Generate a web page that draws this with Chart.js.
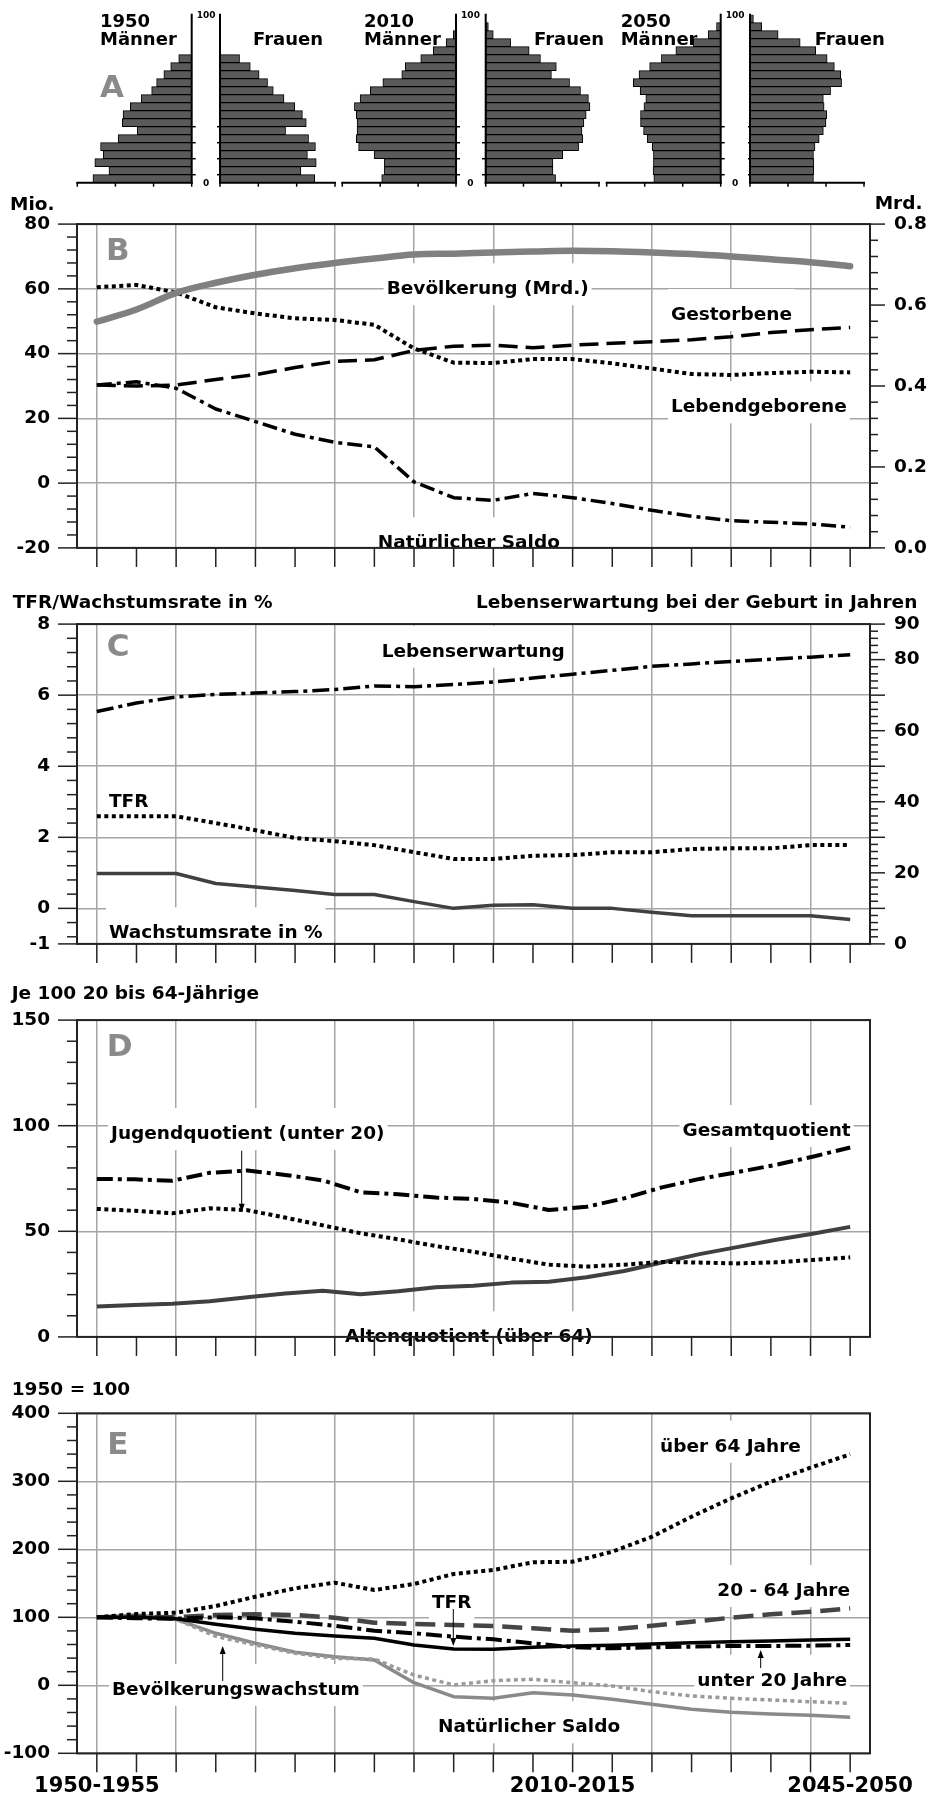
<!DOCTYPE html>
<html lang="de">
<head>
<meta charset="utf-8">
<title>Bevölkerungsentwicklung</title>
<script src="https://cdn.jsdelivr.net/npm/chart.js@4/dist/chart.umd.min.js"></script>
<style>
html,body{margin:0;padding:0;background:#fff}
body{position:relative;width:928px;height:1796px;overflow:hidden}
canvas{position:absolute}
</style>
</head>
<body>
<canvas id="m1950"></canvas><canvas id="f1950"></canvas>
<canvas id="m2010"></canvas><canvas id="f2010"></canvas>
<canvas id="m2050"></canvas><canvas id="f2050"></canvas>
<canvas id="pB"></canvas>
<canvas id="pC"></canvas>
<canvas id="pD"></canvas>
<canvas id="pE"></canvas>
<script>
// ================= DATA =================
const periods = ['1950-1955','1955-1960','1960-1965','1965-1970','1970-1975','1975-1980','1980-1985','1985-1990','1990-1995','1995-2000',
                 '2000-2005','2005-2010','2010-2015','2015-2020','2020-2025','2025-2030','2030-2035','2035-2040','2040-2045','2045-2050'];
const years21 = [1950,1955,1960,1965,1970,1975,1980,1985,1990,1995,2000,2005,2010,2015,2020,2025,2030,2035,2040,2045,2050];
const ageGroups = ['0-4','5-9','10-14','15-19','20-24','25-29','30-34','35-39','40-44','45-49','50-54','55-59','60-64','65-69','70-74','75-79','80-84','85-89','90-94','95-99','100+'];
const pyramidAxisTicks = [0, 10, 20, 30];

// A: Bevölkerungspyramiden (Mio.)
const maenner1950 = [25.9,21.7,25.4,23.2,23.9,19.3,14.3,18.2,18.0,16.1,13.2,10.5,9.2,7.3,5.5,3.4,null,null,null,null,null];
const frauen1950  = [24.7,21.1,25.1,22.8,24.9,23.1,17.1,22.5,21.5,19.5,16.7,13.9,12.4,10.2,7.9,5.1,null,null,null,null,null];
const maenner2010 = [19.6,18.9,18.9,21.6,25.7,26.3,26.1,26.1,26.3,26.8,25.3,22.6,19.3,14.3,13.4,9.3,6.0,2.6,0.7,null,null];
const frauen2010  = [18.5,17.8,17.8,20.4,24.6,25.7,25.5,26.0,26.6,27.6,27.2,25.1,22.2,17.4,18.7,14.5,11.5,6.6,2.0,0.7,null];
const maenner2050 = [17.6,17.8,17.7,17.7,18.0,19.3,20.3,21.1,21.1,20.2,19.7,21.2,23.0,21.5,18.7,15.6,11.8,7.2,3.3,1.1,null];
const frauen2050  = [16.7,16.8,16.8,16.7,17.1,18.2,19.3,20.0,20.2,19.5,19.3,21.2,24.1,23.9,22.2,20.3,17.3,13.2,7.4,3.1,0.9];

// B (Mio. / Mrd.)
const bevoelkerungMrd = [0.559,0.589,0.630,0.655,0.675,0.691,0.704,0.715,0.725,0.727,0.730,0.732,0.734,0.733,0.730,0.726,0.720,0.713,0.706,0.696];
const gestorbene      = [30.3,30.0,30.3,32.0,33.5,35.7,37.6,38.1,41.0,42.3,42.6,41.8,42.6,43.2,43.7,44.3,45.2,46.5,47.4,48.1];
const lebendgeborene  = [60.5,61.2,58.9,54.3,52.4,50.9,50.4,48.9,41.6,37.2,37.1,38.3,38.3,37.0,35.4,33.7,33.4,34.0,34.4,34.2];
const natSaldo        = [30.3,31.3,29.3,22.9,19.0,15.1,12.6,11.2,0.4,-4.5,-5.3,-3.2,-4.5,-6.3,-8.4,-10.2,-11.6,-12.1,-12.6,-13.6];
const bLeftLabels  = [-20, 0, 20, 40, 60, 80];
const bRightLabels = [0, 0.2, 0.4, 0.6, 0.8];

// C
const lebenserwartung = [65.4,67.8,69.5,70.2,70.6,71.0,71.6,72.6,72.4,73.0,73.7,74.8,75.9,77.0,78.1,78.8,79.5,80.1,80.7,81.4];
const tfr             = [2.59,2.59,2.59,2.40,2.20,1.98,1.89,1.78,1.58,1.39,1.39,1.48,1.50,1.58,1.58,1.67,1.69,1.69,1.78,1.78];
const wachstumsrate   = [0.98,0.98,0.98,0.70,0.60,0.50,0.39,0.39,0.19,0.00,0.09,0.10,0.00,0.00,-0.11,-0.21,-0.21,-0.21,-0.21,-0.31];
const cLeftLabels  = [-1, 0, 2, 4, 6, 8];
const cRightLabels = [0, 20, 40, 60, 80, 90];
const cRightLong   = [0, 10, 20, 30, 40, 50, 60, 70, 80, 90];

// D (je 100 20- bis 64-Jährige), Jahre 1950..2050
const gesamtquotient = [74.8,74.6,73.9,77.7,78.8,76.7,74.1,68.5,67.5,66.0,65.3,63.5,60.1,61.6,65.6,70.8,74.8,78.0,81.4,85.3,89.7];
const jugendquotient = [60.6,59.7,58.5,60.9,60.0,56.5,52.8,49.1,46.2,43.0,40.3,37.1,34.2,33.3,34.2,35.5,35.2,34.8,35.3,36.4,37.7];
const altenquotient  = [14.4,15.1,15.7,16.9,18.8,20.5,21.9,20.2,21.6,23.5,24.2,25.7,26.1,28.2,31.2,35.2,39.2,42.5,45.9,48.8,52.1];
const dLabels = [0, 50, 100, 150];

// E (1950 = 100)
const ueber64       = [100,104.9,106.8,116.6,130.3,142.6,150.9,140.1,149.0,163.7,169.6,180.9,181.8,196.5,218.5,248.0,275.0,299.4,320.0,339.7];
const jahre20bis64  = [100,101.0,100.0,103.4,104.4,103.4,99.4,92.1,90.1,88.7,87.2,83.8,80.3,82.4,87.6,93.5,99.4,104.4,108.2,113.2];
const unter20       = [100,98.5,98.0,100.0,98.5,93.5,87.6,80.3,76.5,71.5,67.6,61.8,55.9,54.4,55.9,56.8,57.8,57.8,58.3,59.3];
const tfrIndex      = [100,100.0,98.0,89.7,82.4,76.5,72.5,69.1,59.3,53.4,52.9,55.9,57.8,58.8,60.7,62.6,64.1,65.1,66.6,67.6];
const saldoIndex    = [100,103.4,97.0,76.5,61.8,48.5,42.1,37.2,3.8,-16.7,-19.1,-10.9,-14.3,-20.6,-27.9,-35.3,-39.7,-42.2,-44.1,-47.0];
const wachstumIndex = [100,103.4,97.0,72.0,59.3,47.2,39.7,38.5,15.1,0.5,6.8,8.8,3.8,-1.0,-9.4,-15.7,-19.1,-21.6,-24.1,-26.5];
const eLabels = [-100, 0, 100, 200, 300, 400];
const eXLabels = ['1950-1955', '2010-2015', '2045-2050'];

// ================= HELPERS =================
const FAM = 'DejaVu Sans';
const GRID = '#a6a6a6', AXIS = '#222';
const fnt = s => `bold ${s}px "${FAM}"`;
const near = (a, b) => Math.abs(a - b) < 1e-6;
Chart.defaults.font.family = FAM;

function stepTicks(min, max, step) {
  const out = [min];
  const k0 = Math.ceil(min / step - 1e-9), k1 = Math.floor(max / step + 1e-9);
  for (let k = k0; k <= k1; k++) {
    const v = +(k * step).toFixed(6);
    if (!near(v, min) && !near(v, max)) out.push(v);
  }
  out.push(max);
  return out;
}

function line(ctx, x1, y1, x2, y2) { ctx.beginPath(); ctx.moveTo(x1, y1); ctx.lineTo(x2, y2); ctx.stroke(); }

function drawText(ctx, t, offX, offY) {
  ctx.font = fnt(t.size || 18.5);
  ctx.fillStyle = t.color || '#000';
  ctx.textBaseline = 'alphabetic';
  const w = ctx.measureText(t.text).width;
  const x0 = (t.align === 'right' ? t.x - w : t.align === 'center' ? t.x - w / 2 : t.x) - offX;
  ctx.fillText(t.text, x0, t.y - offY);
  return {x0, w};
}

const decor = {
  id: 'decor',
  beforeDatasetsDraw(chart, args, o) {
    const ctx = chart.ctx;
    ctx.save();
    (o.texts || []).filter(t => t.box).forEach(t => {
      ctx.font = fnt(t.size || 18.5);
      const w = ctx.measureText(t.text).width;
      const x0 = t.align === 'right' ? t.x - w : t.x;
      const by = t.y - o.top;
      ctx.fillStyle = '#fff';
      ctx.fillRect(x0 - 3, by - 31, w + 6, 42);
      drawText(ctx, t, 0, o.top);
    });
    ctx.restore();
  },
  afterDraw(chart, args, o) {
    const ctx = chart.ctx, a = chart.chartArea;
    ctx.save();
    ctx.strokeStyle = AXIS;
    // x tick marks
    const xs = chart.scales.x;
    ctx.lineWidth = 1.5;
    xs.ticks.forEach((t, i) => { const px = xs.getPixelForTick(i); line(ctx, px, a.bottom, px, a.bottom + 19); });
    // y tick marks
    (o.yMarks || []).forEach(m => {
      const s = chart.scales[m.id];
      s.ticks.forEach(t => {
        const py = s.getPixelForValue(t.value);
        const long = m.longVals.some(v => near(v, t.value));
        if (m.side === 'left') line(ctx, a.left - (long ? 19 : 10), py, a.left, py);
        else line(ctx, a.right, py, a.right + (long ? 15 : 8), py);
      });
    });
    // frame
    ctx.lineWidth = 2;
    ctx.strokeRect(a.left, a.top, a.right - a.left, a.bottom - a.top);
    // arrows
    ctx.fillStyle = '#000'; ctx.strokeStyle = '#000'; ctx.lineWidth = 1;
    (o.arrows || []).forEach(ar => {
      const y1 = ar.y1 - o.top, y2 = ar.y2 - o.top, d = y2 > y1 ? 1 : -1;
      line(ctx, ar.x, y1, ar.x, y2 - d * 4);
      ctx.beginPath(); ctx.moveTo(ar.x, y2); ctx.lineTo(ar.x - 3, y2 - d * 8); ctx.lineTo(ar.x + 3, y2 - d * 8); ctx.closePath(); ctx.fill();
    });
    // free texts (titles, letters)
    (o.texts || []).filter(t => !t.box).forEach(t => drawText(ctx, t, 0, o.top));
    // x labels
    (o.xLabels || []).forEach(l => {
      const px = xs.getPixelForValue(periods.indexOf(l));
      drawText(ctx, {text: l, x: px, y: o.xLabelY, align: 'center', size: 21}, 0, o.top);
    });
    ctx.restore();
  }
};

function yAxis(o) {
  const left = o.side === 'left';
  return {
    type: 'linear', position: o.side, min: o.min, max: o.max,
    afterBuildTicks: s => { s.ticks = stepTicks(o.min, o.max, o.step).map(v => ({value: v})); },
    afterFit: s => { s.width = left ? 77 : 58; },
    ticks: {
      autoSkip: false, padding: left ? 27 : 24, color: '#000',
      font: {family: FAM, size: 18.5, weight: 'bold'},
      callback: v => o.labels.some(l => near(l, v)) ? (o.fmt ? o.fmt(v) : String(Math.round(v))) : ''
    },
    grid: {
      drawTicks: false, drawOnChartArea: !!o.grid, lineWidth: 1.5,
      color: c => (o.grid && c.tick && o.longVals.some(l => near(l, c.tick.value))) ? GRID : 'rgba(0,0,0,0)'
    },
    border: {display: false}
  };
}

function catX() {
  return {
    type: 'category', offset: true,
    grid: {offset: false, drawTicks: false, lineWidth: 1.5, color: c => c.index % 2 === 0 ? GRID : 'rgba(0,0,0,0)'},
    ticks: {display: false}, border: {display: false}
  };
}

function ds(data, color, width, dash, extra) {
  return Object.assign({data, borderColor: color, borderWidth: width, borderDash: dash, pointRadius: 0,
    fill: false, tension: 0, borderCapStyle: 'butt', borderJoinStyle: 'round', yAxisID: 'y'}, extra || {});
}

function linePanel(id, cfg) {
  const cv = document.getElementById(id);
  cv.width = 928; cv.height = cfg.h; cv.style.left = '0px'; cv.style.top = cfg.top + 'px';
  const areaTop = cfg.plotTop - cfg.top, areaBottom = cfg.plotBottom - cfg.top;
  const scales = {x: cfg.x, y: yAxis(cfg.y)};
  if (cfg.y2) scales.y2 = yAxis(cfg.y2);
  scales.x.afterFit = s => { s.height = cfg.h - areaBottom; };
  const yMarks = [{id: 'y', side: 'left', longVals: cfg.y.longVals}];
  if (cfg.y2) yMarks.push({id: 'y2', side: 'right', longVals: cfg.y2.longVals});
  return new Chart(cv, {
    type: 'line',
    data: {labels: cfg.labels, datasets: cfg.datasets},
    options: {
      responsive: false, animation: false, events: [],
      layout: {padding: {top: areaTop, left: 0, right: cfg.y2 ? 0 : 58, bottom: 0}},
      plugins: {legend: {display: false}, tooltip: {enabled: false},
        decor: {top: cfg.top, texts: cfg.texts, arrows: cfg.arrows, yMarks, xLabels: cfg.xLabels, xLabelY: cfg.xLabelY}},
      scales
    },
    plugins: [decor]
  });
}

// ================= PYRAMIDS =================
const pyr = {
  id: 'pyr',
  afterDraw(chart, args, o) {
    const ctx = chart.ctx, a = chart.chartArea, xs = chart.scales.x, ys = chart.scales.y;
    const x0 = xs.getPixelForValue(0);
    ctx.save();
    ctx.strokeStyle = '#000'; ctx.lineWidth = 2;
    line(ctx, x0, a.top - 1, x0, a.bottom + 1);
    line(ctx, a.left - 1, a.bottom, a.right + 1, a.bottom);
    ctx.lineWidth = 1.5;
    o.axisTicks.forEach(v => { const px = xs.getPixelForValue(v); line(ctx, px, a.bottom, px, a.bottom + 4); });
    const rowH = Math.abs(ys.getPixelForValue(0) - ys.getPixelForValue(1));
    const dir = o.male ? 1 : -1;
    for (let r = 0; r < ys.ticks.length; r += 2) {
      const py = ys.getPixelForValue(r) - rowH / 2;
      line(ctx, x0, py, x0 + dir * 4, py);
    }
    o.texts.forEach(t => drawText(ctx, t, o.left, 0));
    if (o.male) {
      const gc = x0 + 14.5;
      ctx.font = fnt(9); ctx.fillStyle = '#000'; ctx.textAlign = 'center'; ctx.textBaseline = 'middle';
      ctx.fillText('100', gc, a.top + 1);
      ctx.fillText('0', gc, a.bottom + 1);
    }
    ctx.restore();
  }
};

function pyramid(id, left, width, plotL, plotR, values, male, texts) {
  const cv = document.getElementById(id);
  cv.width = width; cv.height = 192; cv.style.left = left + 'px'; cv.style.top = '0px';
  new Chart(cv, {
    type: 'bar',
    data: {labels: ageGroups, datasets: [{data: values, backgroundColor: '#5a5a5a', borderColor: '#000',
      borderWidth: 1, borderSkipped: false, barPercentage: 1, categoryPercentage: 1}]},
    options: {
      indexAxis: 'y', responsive: false, animation: false, events: [],
      layout: {padding: {left: plotL - left, right: left + width - plotR, top: 14.7, bottom: 192 - 182.7}},
      scales: {x: {display: false, min: 0, max: 30, reverse: male}, y: {display: false, reverse: true}},
      plugins: {legend: {display: false}, tooltip: {enabled: false}, pyr: {male, left, texts, axisTicks: pyramidAxisTicks}}
    },
    plugins: [pyr]
  });
}

pyramid('m1950', 60, 157, 77.3, 191.7, maenner1950, true, [
  {text: '1950', x: 100, y: 27.3, size: 18}, {text: 'Männer', x: 100, y: 45, size: 18},
  {text: 'A', x: 100, y: 96.7, size: 31, color: '#8a8a8a'}]);
pyramid('f1950', 217, 128, 220, 335, frauen1950, false, [{text: 'Frauen', x: 253, y: 45, size: 18}]);
pyramid('m2010', 330, 152, 342.3, 456, maenner2010, true, [
  {text: '2010', x: 364, y: 27.3, size: 18}, {text: 'Männer', x: 364, y: 45, size: 18}]);
pyramid('f2010', 482, 123, 485.7, 599, frauen2010, false, [{text: 'Frauen', x: 534, y: 45, size: 18}]);
pyramid('m2050', 605, 143, 606.7, 720.7, maenner2050, true, [
  {text: '2050', x: 620.7, y: 27.3, size: 18}, {text: 'Männer', x: 620.7, y: 45, size: 18}]);
pyramid('f2050', 748, 180, 750, 864, frauen2050, false, [{text: 'Frauen', x: 814.7, y: 45, size: 18}]);

// ================= PANEL B =================
linePanel('pB', {
  top: 186, h: 400, plotTop: 221, plotBottom: 561, labels: periods, x: catX(),
  y:  {min: -20, max: 80, step: 4, labels: bLeftLabels, longVals: bLeftLabels, side: 'left', grid: true},
  y2: {min: 0, max: 0.8, step: 0.04, labels: bRightLabels, longVals: bRightLabels, side: 'right', fmt: v => v.toFixed(1)},
  datasets: [
    ds(bevoelkerungMrd, '#808080', 6.5, [], {yAxisID: 'y2', borderCapStyle: 'round', cubicInterpolationMode: 'monotone'}),
    ds(gestorbene, '#000', 3.5, [19, 8]),
    ds(lebendgeborene, '#000', 4, [4, 3.5]),
    ds(natSaldo, '#000', 3.5, [15, 5, 4, 5])
  ],
  texts: [
    {text: 'Mio.', x: 10, y: 210},
    {text: 'Mrd.', x: 874.7, y: 209.3},
    {text: 'B', x: 106, y: 260, size: 31, color: '#8a8a8a'},
    {text: 'Bevölkerung (Mrd.)', x: 386.7, y: 294.3, box: true},
    {text: 'Gestorbene', x: 671, y: 320, box: true},
    {text: 'Lebendgeborene', x: 846.7, y: 412.3, align: 'right', box: true},
    {text: 'Natürlicher Saldo', x: 377.7, y: 548.3, box: true}
  ]
});

// ================= PANEL C =================
linePanel('pC', {
  top: 586, h: 396, plotTop: 617.3, plotBottom: 957.7, labels: periods, x: catX(),
  y:  {min: -1, max: 8, step: 0.4, labels: cLeftLabels, longVals: cLeftLabels, side: 'left', grid: true},
  y2: {min: 0, max: 90, step: 2, labels: cRightLabels, longVals: cRightLong, side: 'right'},
  datasets: [
    ds(lebenserwartung, '#000', 3.5, [17, 5, 4, 5], {yAxisID: 'y2'}),
    ds(tfr, '#000', 4, [4, 3.5]),
    ds(wachstumsrate, '#404040', 3.5, [])
  ],
  texts: [
    {text: 'TFR/Wachstumsrate in %', x: 12.7, y: 607.7},
    {text: 'Lebenserwartung bei der Geburt in Jahren', x: 917.3, y: 607.7, align: 'right'},
    {text: 'C', x: 106.7, y: 655.7, size: 31, color: '#8a8a8a'},
    {text: 'Lebenserwartung', x: 381.7, y: 656.7, box: true},
    {text: 'TFR', x: 109, y: 807.3, box: true},
    {text: 'Wachstumsrate in %', x: 109, y: 938.3, box: true}
  ]
});

// ================= PANEL D =================
const dX = {
  type: 'linear', min: 1950 - 50 / 19, max: 2050 + 50 / 19,
  afterBuildTicks: s => { s.ticks = periods.map((p, k) => ({value: 1950 + k * 100 / 19})); },
  grid: {drawTicks: false, lineWidth: 1.5, color: c => c.index % 2 === 0 ? GRID : 'rgba(0,0,0,0)'},
  ticks: {display: false}, border: {display: false}
};
const xy = arr => years21.map((yr, i) => ({x: yr, y: arr[i]}));
linePanel('pD', {
  top: 982, h: 393, plotTop: 1014, plotBottom: 1355, x: dX,
  y: {min: 0, max: 150, step: 10, labels: dLabels, longVals: dLabels, side: 'left', grid: true},
  datasets: [
    ds(xy(gesamtquotient), '#000', 4, [16, 5, 4, 5]),
    ds(xy(jugendquotient), '#000', 4, [4, 3.5]),
    ds(xy(altenquotient), '#404040', 4, [])
  ],
  texts: [
    {text: 'Je 100 20 bis 64-Jährige', x: 11.7, y: 999.3},
    {text: 'D', x: 106.7, y: 1055.7, size: 31, color: '#8a8a8a'},
    {text: 'Jugendquotient (unter 20)', x: 111, y: 1139, box: true},
    {text: 'Gesamtquotient', x: 850.7, y: 1136, align: 'right', box: true},
    {text: 'Altenquotient (über 64)', x: 345, y: 1342.3, box: true}
  ],
  arrows: [{x: 241.7, y1: 1150.7, y2: 1211.7}]
});

// ================= PANEL E =================
linePanel('pE', {
  top: 1375, h: 421, plotTop: 1413.3, plotBottom: 1753.3, labels: periods, x: catX(),
  y: {min: -100, max: 400, step: 20, labels: eLabels, longVals: eLabels, side: 'left', grid: true},
  datasets: [
    ds(ueber64, '#000', 4, [4, 3.5]),
    ds(unter20, '#000', 4, [16, 5, 4, 5]),
    ds(tfrIndex, '#000', 3.5, []),
    ds(jahre20bis64, '#454545', 4.5, [20, 9]),
    ds(wachstumIndex, '#9a9a9a', 3.5, [4, 3.5]),
    ds(saldoIndex, '#8a8a8a', 3.5, [])
  ],
  texts: [
    {text: '1950 = 100', x: 11.7, y: 1395},
    {text: 'E', x: 107.3, y: 1454, size: 31, color: '#8a8a8a'},
    {text: 'über 64 Jahre', x: 660, y: 1451.7, box: true},
    {text: 'TFR', x: 432, y: 1608.3, box: true},
    {text: '20 - 64 Jahre', x: 850, y: 1596, align: 'right', box: true},
    {text: 'unter 20 Jahre', x: 847, y: 1685.7, align: 'right', box: true},
    {text: 'Bevölkerungswachstum', x: 112, y: 1695, box: true},
    {text: 'Natürlicher Saldo', x: 438, y: 1732.3, box: true}
  ],
  arrows: [
    {x: 453.3, y1: 1609, y2: 1646},
    {x: 760.7, y1: 1668, y2: 1650},
    {x: 222.7, y1: 1681, y2: 1646}
  ],
  xLabels: eXLabels, xLabelY: 1791.7
});
</script>
</body>
</html>
